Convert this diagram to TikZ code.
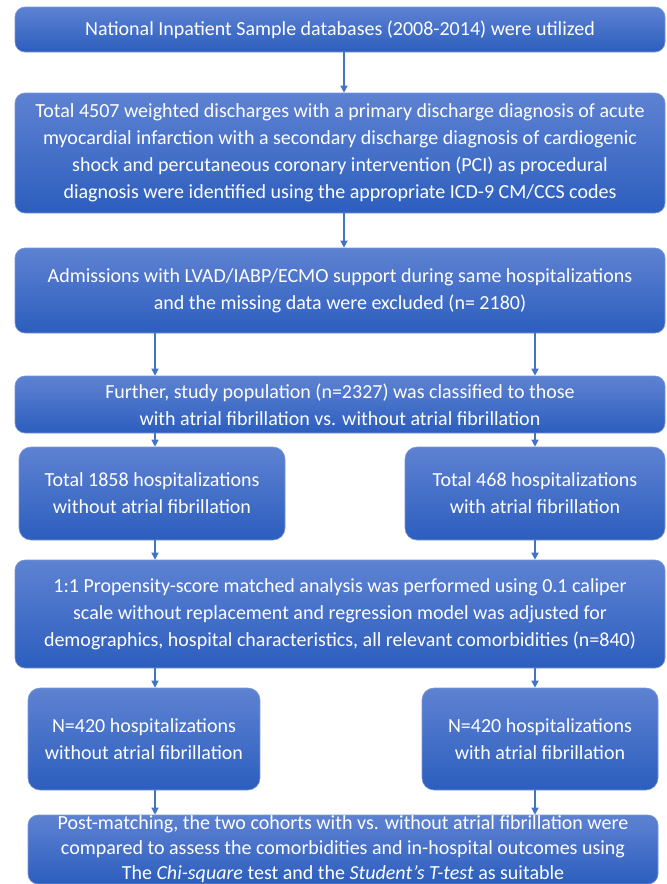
\documentclass[tikz,border=0pt]{standalone}
\usepackage{fontspec}
\setmainfont{Carlito}
\usetikzlibrary{arrows.meta}
\definecolor{boxtop}{RGB}{94,130,210}
\definecolor{boxbot}{RGB}{44,94,190}
\definecolor{boxline}{RGB}{120,150,215}
\definecolor{arr}{RGB}{68,114,196}
\begin{document}
\begin{tikzpicture}[x=1pt,y=-1pt,
  box/.style={rounded corners=10pt, top color=boxtop, bottom color=boxbot,
    draw=boxline, line width=0.6pt, text=white, align=center,
    font=\fontsize{20}{27}\selectfont, inner sep=0pt},
  conn/.style={draw=arr, line width=1.3pt, -{Triangle[length=7pt,width=7pt]}}]
\useasboundingbox (0,0) rectangle (667,884);
\coordinate (M) at (344,0);
\coordinate (L) at (155,0);
\coordinate (R) at (535,0);
\node[box, minimum width=650pt, minimum height=45pt] (b1) at (340,29.5)
  {National Inpatient Sample databases (2008-2014) were utilized};
\node[box, minimum width=650pt, minimum height=120pt] (b2) at (340,153)
  {Total 4507 weighted discharges with a primary discharge diagnosis of acute\\
   myocardial infarction with a secondary discharge diagnosis of cardiogenic\\
   shock and percutaneous coronary intervention (PCI) as procedural\\
   diagnosis were identified using the appropriate ICD-9 CM/CCS codes};
\node[box, minimum width=650pt, minimum height=85pt] (b3) at (340,290.5)
  {Admissions with LVAD/IABP/ECMO support during same hospitalizations\\
   and the missing data were excluded (n= 2180)};
\node[box, minimum width=650pt, minimum height=57pt] (b4) at (340,404.5)
  {Further, study population (n=2327) was classified to those\\
   with atrial fibrillation vs. without atrial fibrillation};
\node[box, rounded corners=12pt, minimum width=266pt, minimum height=93pt] (b5l) at (152,493.5)
  {Total 1858 hospitalizations\\ without atrial fibrillation};
\node[box, rounded corners=12pt, minimum width=260pt, minimum height=93pt] (b5r) at (535,493.5)
  {Total 468 hospitalizations\\ with atrial fibrillation};
\node[box, minimum width=650pt, minimum height=108pt] (b6) at (340,614)
  {1:1 Propensity-score matched analysis was performed using 0.1 caliper\\
   scale without replacement and regression model was adjusted for\\
   demographics, hospital characteristics, all relevant comorbidities (n=840)};
\node[box, rounded corners=12pt, minimum width=232pt, minimum height=102pt] (b7l) at (144,739)
  {N=420 hospitalizations\\ without atrial fibrillation};
\node[box, rounded corners=12pt, minimum width=236pt, minimum height=102pt] (b7r) at (540,739)
  {N=420 hospitalizations\\ with atrial fibrillation};
\node[box, minimum width=630pt, minimum height=69pt, font=\fontsize{20}{25}\selectfont] (b8) at (343,849.5)
  {Post-matching, the two cohorts with vs. without atrial fibrillation were\\
   compared to assess the comorbidities and in-hospital outcomes using\\
   The \textit{Chi-square} test and the \textit{Student’s T-test} as suitable};
\draw[conn] (b1.south -| M) -- (b2.north -| M);
\draw[conn] (b2.south -| M) -- (b3.north -| M);
\draw[conn] (b3.south -| L) -- (b4.north -| L);
\draw[conn] (b3.south -| R) -- (b4.north -| R);
\draw[conn] (b4.south -| L) -- (b5l.north -| L);
\draw[conn] (b4.south -| R) -- (b5r.north -| R);
\draw[conn] (b5l.south -| L) -- (b6.north -| L);
\draw[conn] (b5r.south -| R) -- (b6.north -| R);
\draw[conn] (b6.south -| L) -- (b7l.north -| L);
\draw[conn] (b6.south -| R) -- (b7r.north -| R);
\draw[conn] (b7l.south -| L) -- (b8.north -| L);
\draw[conn] (b7r.south -| R) -- (b8.north -| R);
\end{tikzpicture}
\end{document}
